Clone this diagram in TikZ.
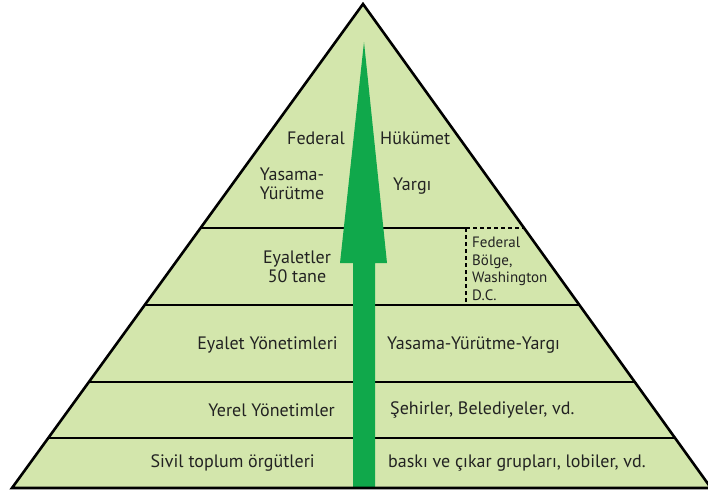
\documentclass[tikz,border=0pt]{standalone}
\usepackage{fontspec}
\setmainfont{PT Sans}
\usetikzlibrary{calc}

\definecolor{zemin}{HTML}{D3E6AC}
\definecolor{ok}{HTML}{10A84B}
\definecolor{yazi}{HTML}{222222}

\tikzset{
  etiket/.style={text=yazi, inner sep=0pt, font=\fontsize{18}{19.5}\selectfont},
  kucuk/.style={text=yazi, inner sep=0pt, align=left, font=\fontsize{15}{17.6}\selectfont},
  kat/.style={line width=1.6pt},
  fedline/.style={line width=1.2pt, dash pattern=on 4pt off 3pt}
}

\begin{document}
\begin{tikzpicture}[x=1pt,y=-1pt]
  \useasboundingbox (0,0) rectangle (708,493);

  % Piramit
  \coordinate (tepe) at (363,4);
  \coordinate (sol) at (12,488);
  \coordinate (sag) at (711,488);
  \fill[zemin] (tepe) -- (sol) -- (sag) -- cycle;

  % Katlar
  \begin{scope}
    \clip (tepe) -- (sol) -- (sag) -- cycle;
    \draw[kat] (0,228) -- (466,228);
    \draw[fedline] (466,228) -- (708,228);
    \draw[fedline] (466,228) -- (466,305);
    \draw[kat] (0,305) -- (708,305);
    \draw[kat] (0,382) -- (708,382);
    \draw[kat] (0,438) -- (708,438);
  \end{scope}

  % Ok
  \fill[ok] (364,42) -- (387,263) -- (375,263) -- (375,488)
            -- (353,488) -- (353,263) -- (340,263) -- cycle;

  \draw[line width=2.6pt, line join=miter] (tepe) -- (sol) -- (sag) -- cycle;

  % Federal Hukumet
  \node[etiket, anchor=east] (federal) at (345,138) {Federal};
  \node[etiket, anchor=west] (hukumet) at (380,138) {Hükümet};
  \node[etiket, align=center] (yasama) at (292,184) {Yasama-\\Yürütme};
  \node[etiket, anchor=west] (yargi) at (393,186) {Yargı};

  % Eyaletler
  \node[etiket, align=center] (eyaletler) at (297,267) {Eyaletler\\50 tane};
  \node[kucuk, anchor=west] (bolge) at (472,269) {Federal\\Bölge,\\Washington\\D.C.};

  % Alt katlar
  \node[etiket, anchor=east] (eyyon) at (338,345) {Eyalet Yönetimleri};
  \node[etiket, anchor=west] (eyorgan) at (387,345) {Yasama-Yürütme-Yargı};
  \node[etiket, anchor=east] (yerel) at (335,410) {Yerel Yönetimler};
  \node[etiket, anchor=west] (sehir) at (390,410) {Şehirler, Belediyeler, vd.};
  \node[etiket, anchor=east] (sivil) at (315,463) {Sivil toplum örgütleri};
  \node[etiket, anchor=west] (baski) at (388,463) {baskı ve çıkar grupları, lobiler, vd.};
\end{tikzpicture}
\end{document}
